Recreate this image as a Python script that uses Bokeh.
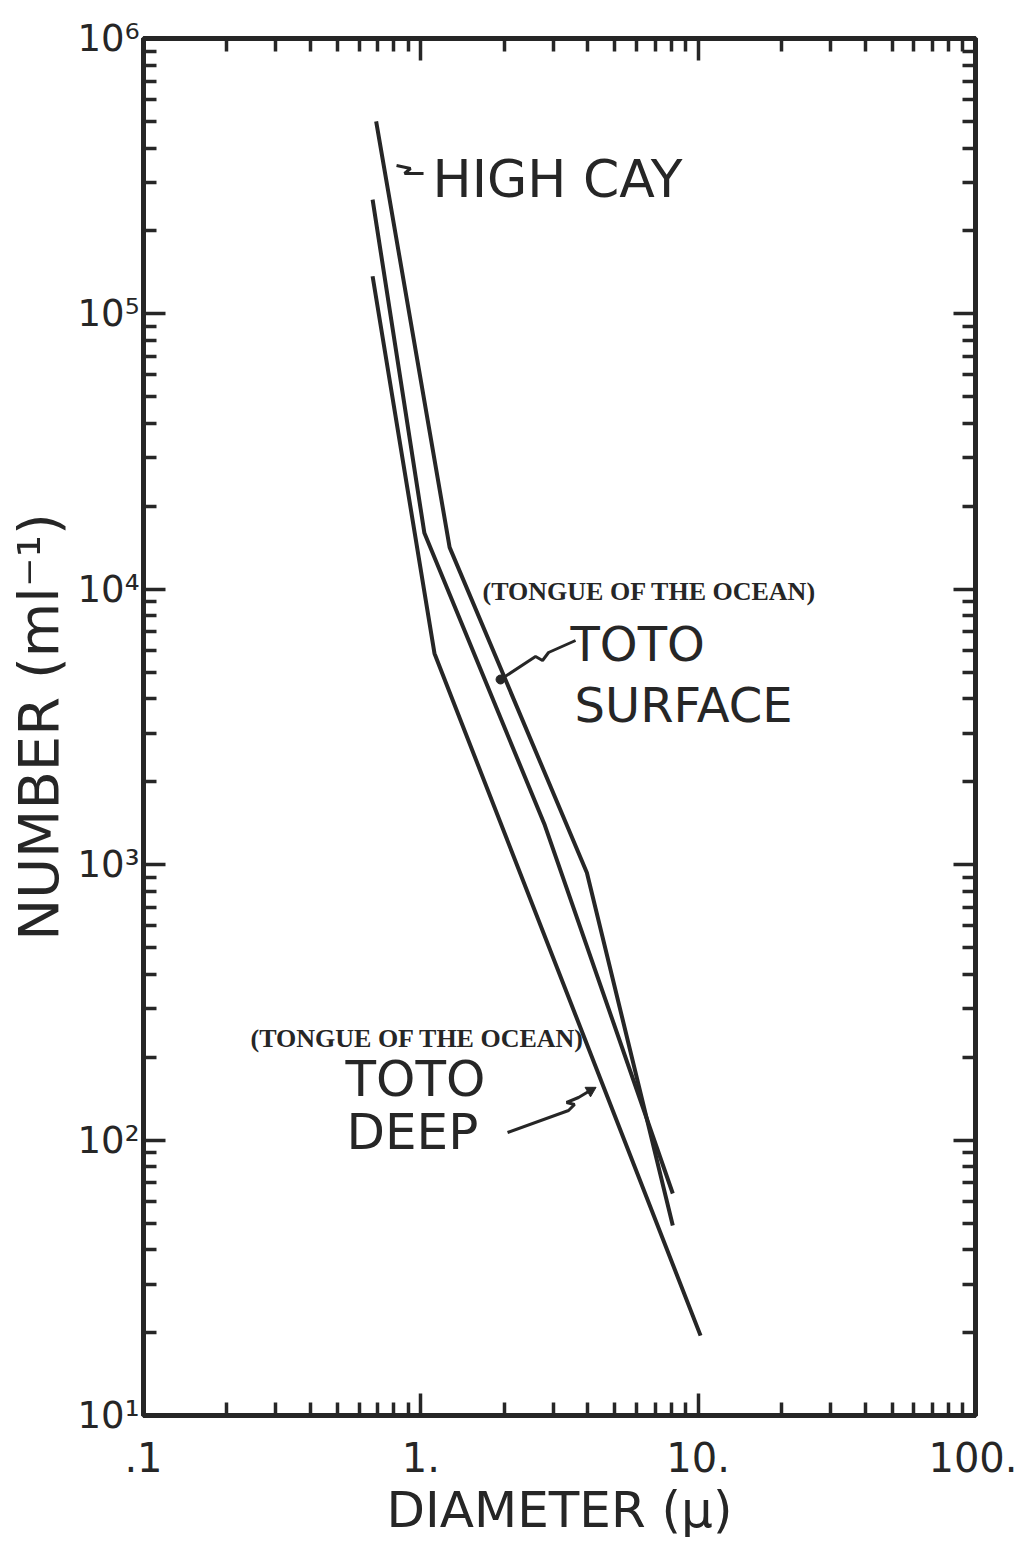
from bokeh.plotting import figure
from bokeh.models import (Range1d, FixedTicker, LogAxis, CustomJSTickFormatter, Label)
from bokeh.embed import file_html
from bokeh.resources import INLINE

# ---- data ----
high_diam = [0.69, 1.27, 3.97, 8.1]
high_num = [5.0e5, 1.42e4, 935, 49]

surf_diam = [0.67, 1.03, 2.80, 8.1]
surf_num = [2.6e5, 1.6e4, 1390, 64]

deep_diam = [0.67, 1.12, 10.2]
deep_num = [1.37e5, 5.85e3, 19.5]

x_tick_vals = [0.1, 1, 10, 100]
x_tick_labels = [".1", "1.", "10.", "100."]
x_minor = [m * d for d in (0.1, 1, 10) for m in range(2, 10)]

y_tick_vals = [10, 100, 1000, 10000, 100000, 1000000]
y_tick_labels = ["10¹", "10²", "10³", "10⁴", "10⁵", "10⁶"]
y_minor = [m * d for d in (10, 100, 1000, 10000, 100000) for m in range(2, 10)]

INK = "#262626"
FONT = "DejaVu Sans"

p = figure(x_axis_type="log", y_axis_type="log",
           x_range=Range1d(0.1, 100), y_range=Range1d(10, 1e6),
           frame_width=832, frame_height=1377,
           min_border_left=143, min_border_right=42, min_border_top=38, min_border_bottom=125,
           output_backend="svg", toolbar_location=None,
           background_fill_color="white", border_fill_color="white")
p.grid.visible = False
p.outline_line_color = INK
p.outline_line_width = 5


def fmt(vals, labs):
    return CustomJSTickFormatter(args=dict(vals=vals, labs=labs), code="""
        for (let i = 0; i < vals.length; i++) {
            if (Math.abs(Math.log10(tick) - Math.log10(vals[i])) < 1e-6) return labs[i];
        }
        return ' ';
    """)


def style_axis(ax, ticker, show_labels):
    ax.ticker = ticker
    ax.axis_line_color = INK
    ax.axis_line_width = 5
    ax.major_tick_line_color = INK
    ax.major_tick_line_width = 3.5
    ax.minor_tick_line_color = INK
    ax.minor_tick_line_width = 3.5
    ax.major_tick_in = 22
    ax.major_tick_out = 0
    ax.minor_tick_in = 13
    ax.minor_tick_out = 0
    if not show_labels:
        ax.major_label_text_font_size = "10px"
        ax.major_label_text_alpha = 0.0
        ax.major_label_standoff = 0


xt = FixedTicker(ticks=x_tick_vals, minor_ticks=x_minor)
yt = FixedTicker(ticks=y_tick_vals, minor_ticks=y_minor)

xb = p.xaxis[0]
style_axis(xb, xt, True)
xb.formatter = fmt(x_tick_vals, x_tick_labels)
xb.major_label_text_font = FONT
xb.major_label_text_font_size = "40px"
xb.major_label_text_color = INK
xb.major_label_standoff = 26
xb.axis_label = "DIAMETER (μ)"
xb.axis_label_text_font = FONT
xb.axis_label_text_font_size = "50px"
xb.axis_label_text_font_style = "normal"
xb.axis_label_text_color = INK
xb.axis_label_standoff = 6

yl = p.yaxis[0]
style_axis(yl, yt, True)
yl.formatter = fmt(y_tick_vals, y_tick_labels)
yl.major_label_text_font = FONT
yl.major_label_text_font_size = "37px"
yl.major_label_text_color = INK
yl.major_label_standoff = 4
yl.axis_label = "NUMBER (ml⁻¹)"
yl.axis_label_text_font = FONT
yl.axis_label_text_font_size = "56px"
yl.axis_label_text_font_style = "normal"
yl.axis_label_text_color = INK
yl.axis_label_standoff = 4

xtop = LogAxis()
style_axis(xtop, FixedTicker(ticks=x_tick_vals, minor_ticks=x_minor), False)
p.add_layout(xtop, "above")
yright = LogAxis()
style_axis(yright, FixedTicker(ticks=y_tick_vals, minor_ticks=y_minor), False)
p.add_layout(yright, "right")

# ---- curves ----
for xs, ys in ((high_diam, high_num), (surf_diam, surf_num), (deep_diam, deep_num)):
    p.line(xs, ys, line_color=INK, line_width=4)


# ---- annotations (positions in reference pixel space -> data) ----
def ax_(px):
    return 10 ** ((px - 143) / 277.3 - 1)


def ay_(py):
    return 10 ** (6 - (py - 38) / 275.4)


def add_label(text, px, py, size, font=FONT, style="normal"):
    p.add_layout(Label(x=ax_(px), y=ay_(py), text=text, text_font=font,
                       text_font_size=size, text_font_style=style, text_color=INK,
                       text_align="left", text_baseline="middle"))


add_label("HIGH CAY", 432, 178, "52px")
add_label("(TONGUE OF THE OCEAN)", 482, 591, "26px", "Liberation Serif", "bold")
add_label("TOTO", 570, 643, "48px")
add_label("SURFACE", 574, 704, "48px")
add_label("(TONGUE OF THE OCEAN)", 250, 1038, "26px", "Liberation Serif", "bold")
add_label("TOTO", 345, 1078, "50px")
add_label("DEEP", 346, 1131, "50px")

pointers = [
    [(423, 173), (404, 173), (410, 168), (396, 165)],
    [(575, 640), (548, 652), (542, 660), (535, 656), (500, 679)],
    [(507, 1132), (568, 1110), (574, 1104), (566, 1102), (578, 1097), (593, 1088)],
]
for pts in pointers:
    p.line([ax_(a) for a, b in pts], [ay_(b) for a, b in pts], line_color=INK, line_width=3)
p.scatter([ax_(500)], [ay_(679)], size=9, color=INK)
p.scatter([ax_(590)], [ay_(1090)], marker="triangle", size=11, angle=-1.05, color=INK)

open("out.html", "w").write(file_html(p, INLINE))
